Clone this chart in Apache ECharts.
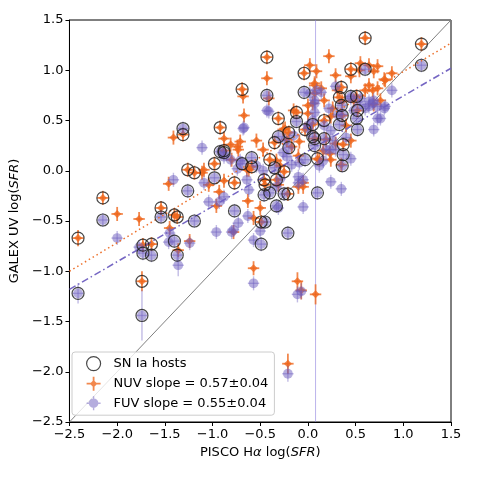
<!DOCTYPE html>
<html>
<head>
<meta charset="utf-8">
<script src="https://cdn.jsdelivr.net/npm/echarts@6/dist/echarts.min.js"></script>
<style>html,body{margin:0;padding:0;background:#fff}#c{width:482px;height:481px}</style>
</head>
<body>
<div id="c"></div>
<script>
// ---------- data (log SFR) ----------
// SN Ia host galaxies: PISCO Halpha, NUV, FUV
const hostX   = [0.60,0.45,1.19,-0.43,-0.04,-0.69,-0.92,-0.88,-1.31,-1.26,-1.19,-0.98,-0.77,-0.59,-0.31,-0.20,-0.35,-0.40,-0.25,0.35,0.33,0.51,0.52,-0.12,0.17,0.36,-0.03,0.07,0.05,-0.33,-0.46,-0.45,-0.49,-0.21,0.10,-1.40,-1.37,-2.15,-2.41,-1.54,-1.73,-1.64,-1.74,0.37];
const hostNuv = [1.32,1.01,1.26,1.13,0.97,0.81,0.43,0.20,0.36,0.01,-0.02,0.07,-0.12,0.04,0.52,0.38,0.28,0.11,-0.01,0.83,0.73,0.74,0.60,0.58,0.50,0.55,0.41,0.32,0.46,-0.09,-0.09,-0.14,-0.51,-0.23,0.12,-0.44,-0.46,-0.27,-0.67,-0.37,-0.74,-0.73,-1.10,0.26];
const hostFuv = [1.01,0.74,1.05,0.75,0.78,0.07,0.19,0.18,0.42,-0.20,-0.50,-0.07,-0.40,0.13,0.34,0.23,0.03,-0.22,-0.23,0.65,0.46,0.52,0.41,0.49,0.32,0.05,0.11,0.25,0.34,-0.35,-0.24,-0.51,-0.73,-0.62,-0.22,-0.70,-0.84,-0.49,-1.22,-0.46,-0.82,-0.84,-1.44,0.16];
// other galaxies
const fieldX   = [-2.00,-1.77,-1.45,-1.41,-1.46,-1.36,-1.24,-1.11,-1.04,-1.09,-0.88,-0.81,-0.74,-0.73,-0.80,-0.68,-0.43,-0.47,-0.26,-0.62,-0.93,-0.96,-0.57,-0.57,-0.63,-0.88,-0.78,-0.50,-0.31,-0.11,-0.07,0.08,-0.21,-0.05,-0.10,0.12,0.24,0.35,0.45,0.22,0.02,0.09,0.55,0.64,0.73,0.54,0.64,0.80,0.88,0.73,0.07,0.14,0.07,0.17,0.36,0.00,-0.24,0.24,0.81,0.69,0.76,0.07,0.05,0.00,-0.41,-0.67,-0.71,-0.22,-0.09,-0.17,0.23,0.16,0.19,-0.64,-0.29,-0.33,-0.10,-0.05,0.29,0.48,0.29,0.68,0.40,0.60,0.31,0.45,0.69,-0.54,-0.15,0.26];
const fieldNuv = [-0.43,-0.48,-0.57,0.33,-0.13,-0.79,-0.70,-0.02,-0.14,0.01,0.32,0.26,0.24,0.21,0.11,0.74,0.92,0.21,0.41,0.01,-0.21,-0.35,-0.97,-0.47,-0.30,-0.10,-0.61,-0.37,-0.14,-1.10,-1.19,-1.23,-1.92,-0.16,-0.16,0.11,0.11,0.06,0.30,1.14,1.05,0.99,1.07,1.05,1.04,1.00,0.85,0.91,0.97,0.82,0.85,0.82,0.77,0.70,0.69,0.57,0.42,0.54,0.90,0.66,0.70,0.87,0.67,0.65,0.72,0.55,0.29,0.31,0.29,0.24,0.17,0.20,0.31,0.01,0.05,0.10,0.15,-0.12,0.27,0.70,0.95,0.80,0.45,0.80,0.80,0.94,0.99,0.30,0.60,0.62];
const fieldFuv = [-0.67,-0.76,-0.62,-0.09,-0.71,-0.94,-0.72,0.23,-0.31,-0.12,0.14,0.11,0.02,-0.52,-0.61,0.42,0.60,0.00,0.18,-0.19,-0.31,-0.61,-1.12,-0.69,-0.45,-0.26,-0.59,-0.60,-0.37,-1.23,-1.20,null,-2.02,-0.36,-0.12,0.05,-0.11,-0.18,0.12,0.62,0.77,0.80,0.72,0.69,0.64,0.66,0.64,0.62,0.80,0.52,0.70,0.78,0.58,0.45,0.56,0.45,0.30,0.40,0.64,0.41,0.52,0.67,0.50,0.42,0.59,0.43,0.10,0.14,0.08,0.06,0.21,0.10,0.21,-0.09,-0.08,-0.16,-0.06,-0.09,0.21,0.60,0.84,0.67,0.33,0.62,0.56,0.72,0.70,0.05,0.35,0.30];
// typical uncertainties and the few large ones: [group, index, nuvErr, fuvErr]
const errXDefault = 0.06;
const errYDefault = 0.07;
const errOverrides = [['host',42,0.10,0.25],['host',38,0.08,0.10],['field',32,0.10,0.08],['field',5,0.07,0.11],['field',31,0.10,0.07],['field',29,0.09,0.08],['field',30,0.09,0.08]];
// fits and reference lines
const oneToOne   = [[-2.5,-2.5],[1.5,1.5]];
const nuvFitLine = [[-2.5,-1.00],[1.5,1.27]];
const fuvFitLine = [[-2.5,-1.18],[1.5,1.02]];
const vLine      = [[0.08,-2.5],[0.08,1.5]];
const xTicks = {min:-2.5, max:1.5, step:0.5};
const yTicks = {min:-2.5, max:1.5, step:0.5};
const legendNames = ['SN Ia hosts','NUV slope = 0.57±0.04','FUV slope = 0.55±0.04'];

// ---------- build series data ----------
function errFor(group, i, k){ for (const o of errOverrides){ if(o[0]===group && o[1]===i) return o[k]; } return errYDefault; }
const nuvData=[], fuvData=[], hostPts=[];
hostX.forEach((x,i)=>{
  nuvData.push([x, hostNuv[i], errXDefault, errFor('host',i,2)]);
  if (hostFuv[i]!==null) fuvData.push([x, hostFuv[i], errXDefault, errFor('host',i,3)]);
  hostPts.push([x, hostNuv[i]]);
  if (hostFuv[i]!==null) hostPts.push([x, hostFuv[i]]);
});
fieldX.forEach((x,i)=>{
  nuvData.push([x, fieldNuv[i], errXDefault, errFor('field',i,2)]);
  if (fieldFuv[i]!==null) fuvData.push([x, fieldFuv[i], errXDefault, errFor('field',i,3)]);
});

const ORANGE='rgba(238,102,28,0.78)';
const PURPLE='rgba(108,92,190,0.5)';
const PURPLE_BAR='rgba(108,92,190,0.42)';

function makeRender(kind){
  return function(params, api){
    const x=api.value(0), y=api.value(1), ex=api.value(2), ey=api.value(3);
    const c=api.coord([x,y]);
    const l=api.coord([x-ex,y]), r=api.coord([x+ex,y]);
    const t=api.coord([x,y+ey]), b=api.coord([x,y-ey]);
    const col = kind==='nuv'?ORANGE:PURPLE_BAR;
    const lw = kind==='nuv'?1.8:1.4;
    const children=[
      {type:'line',shape:{x1:l[0],y1:l[1],x2:r[0],y2:r[1]},style:{stroke:col,lineWidth:lw}},
      {type:'line',shape:{x1:b[0],y1:b[1],x2:t[0],y2:t[1]},style:{stroke:col,lineWidth:lw}}
    ];
    if(kind==='nuv'){
      children.push({type:'polygon',shape:{points:[[c[0],c[1]-4],[c[0]+4,c[1]],[c[0],c[1]+4],[c[0]-4,c[1]]]},style:{fill:ORANGE}});
    } else {
      children.push({type:'circle',shape:{cx:c[0],cy:c[1],r:4.9},style:{fill:PURPLE}});
    }
    return {type:'group',children};
  };
}

const fmt = v => (Math.round(v*10)/10).toFixed(1).replace('-','\u2212');
const FONT='DejaVu Sans';

const chart = echarts.init(document.getElementById('c'), null, {renderer:'canvas'});
chart.setOption({
  animation:false,
  backgroundColor:'#fff',
  grid:{left:66,right:31,top:20,bottom:59,show:true,borderColor:'#000',borderWidth:1,backgroundColor:'transparent'},
  xAxis:{type:'value',min:xTicks.min,max:xTicks.max,interval:xTicks.step,
    axisLine:{onZero:false,lineStyle:{color:'#000',width:1}},
    axisTick:{show:true,length:4,lineStyle:{color:'#000'}},
    axisLabel:{formatter:fmt,color:'#000',fontSize:13,fontFamily:FONT,margin:6},
    splitLine:{show:false},
    name:'{n|PISCO H}{i|α}{n| log(}{i|SFR}{n|)}',nameLocation:'middle',nameGap:22,
    nameTextStyle:{rich:{n:{fontSize:13,fontFamily:FONT,color:'#000'},i:{fontSize:13,fontFamily:FONT,fontStyle:'italic',color:'#000'}}}},
  yAxis:{type:'value',min:yTicks.min,max:yTicks.max,interval:yTicks.step,
    axisLine:{onZero:false,lineStyle:{color:'#000',width:1}},
    axisTick:{show:true,length:4,lineStyle:{color:'#000'}},
    axisLabel:{formatter:fmt,color:'#000',fontSize:13,fontFamily:FONT,margin:6},
    splitLine:{show:false},
    name:'{n|GALEX UV log(}{i|SFR}{n|)}',nameLocation:'middle',nameGap:38,nameRotate:90,
    nameTextStyle:{rich:{n:{fontSize:13,fontFamily:FONT,color:'#000'},i:{fontSize:13,fontFamily:FONT,fontStyle:'italic',color:'#000'}}}},
  legend:{show:true,orient:'vertical',left:72,top:352,
    padding:[4,6,5,14],itemWidth:14,itemHeight:14,itemGap:5.5,
    backgroundColor:'rgba(255,255,255,0.8)',borderColor:'#cccccc',borderWidth:1,borderRadius:3,
    textStyle:{fontSize:13,fontFamily:FONT,color:'#000',padding:[0,0,0,8]},
    selectedMode:false,
    data:[
      {name:legendNames[0],icon:'circle',itemStyle:{color:'rgba(0,0,0,0)',borderColor:'#1a1a1a',borderWidth:1.2}},
      {name:legendNames[1],icon:'path://M6.1,0h1.8v14h-1.8z M0,6.1h14v1.8h-14z M7,3.3L10.7,7L7,10.7L3.3,7z',itemStyle:{color:ORANGE}},
      {name:legendNames[2],icon:'path://M6.3,0h1.4v14h-1.4z M0,6.3h14v1.4h-14z M7,2.2A4.8,4.8 0 1 1 6.99,2.2z',itemStyle:{color:PURPLE}}
    ]},
  series:[
    {type:'line',data:vLine,symbol:'none',silent:true,z:1,lineStyle:{color:'rgba(140,128,222,0.6)',width:1}},
    {type:'line',data:oneToOne,symbol:'none',silent:true,z:1,lineStyle:{color:'#7f7f7f',width:1}},
    {name:legendNames[1],type:'custom',renderItem:makeRender('nuv'),data:nuvData,encode:{x:0,y:1},z:2,itemStyle:{color:ORANGE}},
    {name:legendNames[2],type:'custom',renderItem:makeRender('fuv'),data:fuvData,encode:{x:0,y:1},z:3,itemStyle:{color:PURPLE}},
    {type:'line',data:nuvFitLine,symbol:'none',silent:true,z:4,lineStyle:{color:'rgba(236,104,32,0.95)',width:1.5,type:[1.5,3]}},
    {type:'line',data:fuvFitLine,symbol:'none',silent:true,z:4,lineStyle:{color:'rgba(110,94,192,0.95)',width:1.5,type:[7,3,1.5,3]}},
    {name:legendNames[0],type:'scatter',data:hostPts,symbol:'circle',symbolSize:12,z:5,silent:true,
      itemStyle:{color:'rgba(0,0,0,0)',borderColor:'#1a1a1a',borderWidth:1.2}}
  ]
});
</script>
</body>
</html>
